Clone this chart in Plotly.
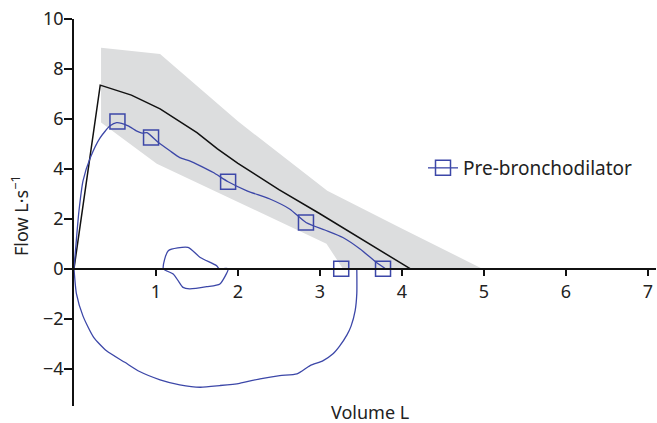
import plotly.graph_objects as go

# ---- data ----
band_upper_x = [0.33, 1.05, 2.0, 3.09, 3.98, 4.98]
band_upper_y = [8.85, 8.6, 5.9, 3.12, 1.64, 0.0]
band_lower_x = [3.28, 3.08, 1.01, 0.33]
band_lower_y = [0.0, 1.0, 4.2, 5.85]

pred_x = [0, 0.32, 0.7, 1.05, 1.5, 1.75, 2.0, 2.5, 3.0, 3.24, 3.6, 4.1]
pred_y = [0, 7.35, 6.95, 6.4, 5.45, 4.8, 4.22, 3.17, 2.2, 1.72, 1.0, 0.0]

exp_x = [0, 0.03, 0.06, 0.11, 0.2, 0.32, 0.44, 0.52, 0.66, 0.76, 0.83, 0.89, 1.03, 1.17,
         1.29, 1.41, 1.54, 1.70, 1.88, 2.11, 2.39, 2.63, 2.83, 3.06, 3.28, 3.49, 3.69, 3.80]
exp_y = [0, 1.2, 2.3, 3.52, 4.45, 5.25, 5.72, 5.85, 5.72, 5.52, 5.43, 5.45, 5.05, 4.72,
         4.45, 4.32, 4.12, 3.85, 3.48, 3.12, 2.79, 2.39, 1.85, 1.55, 1.25, 0.79, 0.25, 0.0]

insp_x = [3.45, 3.45, 3.43, 3.38, 3.33, 3.24, 3.16, 3.04, 2.88, 2.72, 2.51, 2.27, 2.02, 1.78,
          1.54, 1.29, 1.05, 0.80, 0.62, 0.40, 0.24, 0.11, 0.03, 0]
insp_y = [0, -1.0, -1.68, -2.3, -2.65, -3.1, -3.41, -3.68, -3.88, -4.21, -4.28, -4.41, -4.59,
          -4.68, -4.75, -4.65, -4.45, -4.12, -3.75, -3.3, -2.75, -1.9, -1.01, 0]

tidal_x = [1.09, 1.15, 1.39, 1.54, 1.74, 1.77, 1.88, 1.78, 1.62, 1.41, 1.33, 1.27, 1.21, 1.09]
tidal_y = [0, 0.72, 0.85, 0.45, 0.12, 0, 0, -0.61, -0.72, -0.81, -0.75, -0.48, -0.21, 0]

marker_x = [0.53, 0.94, 1.88, 2.83, 3.26, 3.77]
marker_y = [5.89, 5.25, 3.48, 1.85, 0.0, 0.0]

x_ticks = [1, 2, 3, 4, 5, 6, 7]
y_ticks = [-4, -2, 0, 2, 4, 6, 8, 10]

BLUE = "#3c47a8"
FONT = "Noto Sans"
TXT = "#222222"

fig = go.Figure()

fig.add_trace(go.Scatter(
    x=band_upper_x + band_lower_x, y=band_upper_y + band_lower_y,
    fill="toself", fillcolor="#dcddde", line=dict(width=0), mode="lines",
    showlegend=False, hoverinfo="skip"))

fig.add_trace(go.Scatter(x=pred_x, y=pred_y, mode="lines",
                         line=dict(color="#111111", width=1.5), showlegend=False))

for xs, ys in [(exp_x, exp_y), (insp_x, insp_y), (tidal_x, tidal_y)]:
    fig.add_trace(go.Scatter(x=xs, y=ys, mode="lines",
                             line=dict(color=BLUE, width=1.3, shape="spline", smoothing=0.6),
                             showlegend=False))

fig.add_trace(go.Scatter(x=marker_x, y=marker_y, mode="markers",
                         marker=dict(symbol="square-open", size=15, color=BLUE,
                                     line=dict(width=1.5, color=BLUE)),
                         showlegend=False, cliponaxis=False))

fig.add_trace(go.Scatter(x=[None], y=[None], mode="lines+markers", name="Pre-bronchodilator",
                         line=dict(color=BLUE, width=1.3),
                         marker=dict(symbol="square-open", size=15, color=BLUE,
                                     line=dict(width=1.5, color=BLUE))))

fig.update_layout(
    width=657, height=423,
    margin=dict(l=74, r=1, t=19, b=17, autoexpand=False),
    paper_bgcolor="white", plot_bgcolor="white",
    font=dict(family=FONT, size=18, color=TXT),
    showlegend=True,
    legend=dict(x=(423 - 74) / 582, y=(406 - 168) / 387, xanchor="left", yanchor="middle",
                bgcolor="rgba(0,0,0,0)", font=dict(size=19, color=TXT)),
    xaxis=dict(range=[0, 7.1], tickvals=x_ticks, showgrid=False, zeroline=False,
               showline=True, linecolor="#111111", linewidth=1.5,
               ticks="outside", ticklen=7, tickwidth=1.5, tickcolor="#111111",
               anchor="free", position=5.5 / 15.5, automargin=False,
               ticklabeloverflow="allow",
               tickfont=dict(size=18, color=TXT)),
    yaxis=dict(range=[-5.5, 10], tickvals=y_ticks, showgrid=False, zeroline=False,
               showline=True, linecolor="#111111", linewidth=1.5,
               ticks="outside", ticklen=8, tickwidth=1.5, tickcolor="#111111",
               ticklabeloverflow="allow", ticklabelstandoff=-3,
               tickformat="d", automargin=False, tickfont=dict(size=18, color=TXT)),
    annotations=[
        dict(text="Volume L", x=(370 - 74) / 582, y=(406 - 412) / 387, xref="paper", yref="paper",
             xanchor="center", yanchor="middle", showarrow=False, font=dict(size=18, color=TXT)),
        dict(text="Flow L·s<sup>−1</sup>", x=-(74 - 20) / 582, y=(406 - 216) / 387,
             xref="paper", yref="paper", xanchor="center", yanchor="middle",
             showarrow=False, textangle=-90, font=dict(size=18, color=TXT)),
    ],
)

fig.write_html("out.html", config={"displayModeBar": False},
               post_script="document.body.style.margin='0';document.body.style.overflow='hidden';")
